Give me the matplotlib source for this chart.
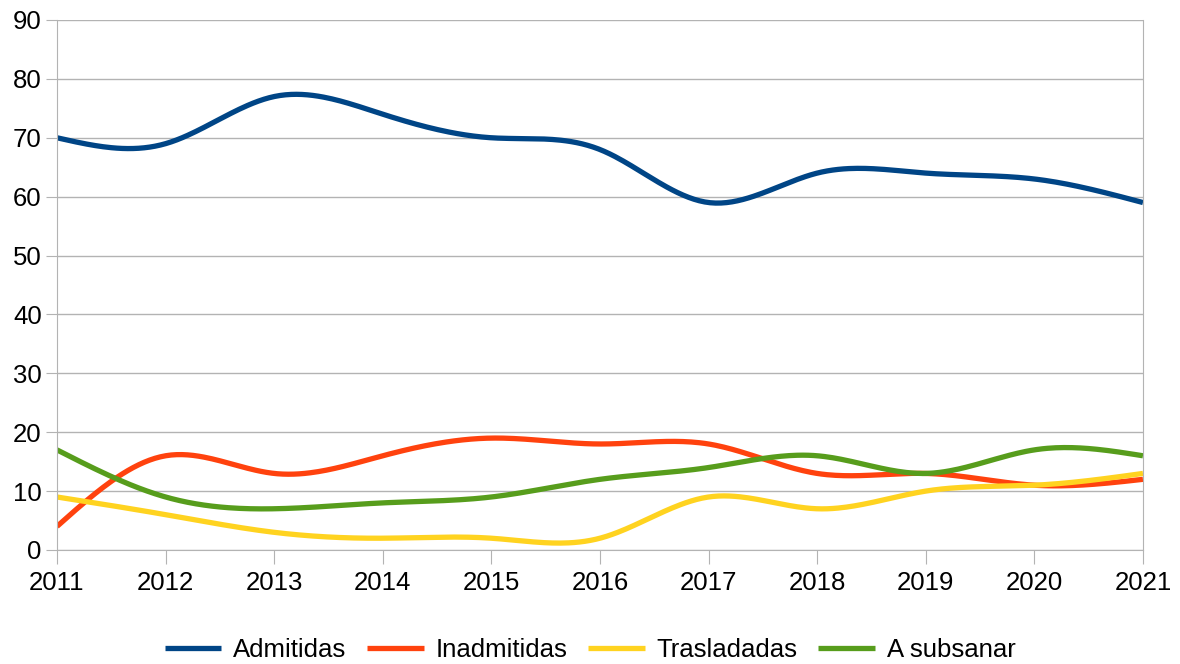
import numpy as np
import matplotlib
matplotlib.use('Agg')
import matplotlib.pyplot as plt

plt.rcParams['font.family'] = ['Liberation Sans', 'DejaVu Sans']

years = [2011, 2012, 2013, 2014, 2015, 2016, 2017, 2018, 2019, 2020, 2021]
admitidas = [70, 69, 77, 74, 70, 68, 59, 64, 64, 63, 59]
inadmitidas = [4, 16, 13, 16, 19, 18, 18, 13, 13, 11, 12]
trasladadas = [9, 6, 3, 2, 2, 2, 9, 7, 10, 11, 13]
subsanar = [17, 9, 7, 8, 9, 12, 14, 16, 13, 17, 16]

labels = ['Admitidas', 'Inadmitidas', 'Trasladadas', 'A subsanar']
colors = ['#004586', '#ff420e', '#ffd320', '#579d1c']


def natural_spline(x, y, n=400):
    # natural cubic spline, only used to draw the smoothed line
    x = np.asarray(x, float)
    y = np.asarray(y, float)
    k = len(x)
    h = np.diff(x)
    A = np.zeros((k, k))
    b = np.zeros(k)
    A[0, 0] = A[-1, -1] = 1
    for i in range(1, k - 1):
        A[i, i - 1] = h[i - 1]
        A[i, i] = 2 * (h[i - 1] + h[i])
        A[i, i + 1] = h[i]
        b[i] = 3 * ((y[i + 1] - y[i]) / h[i] - (y[i] - y[i - 1]) / h[i - 1])
    c = np.linalg.solve(A, b)
    xs = np.linspace(x[0], x[-1], n)
    idx = np.clip(np.searchsorted(x, xs) - 1, 0, k - 2)
    dx = xs - x[idx]
    hi = h[idx]
    bb = (y[idx + 1] - y[idx]) / hi - hi * (2 * c[idx] + c[idx + 1]) / 3
    dd = (c[idx + 1] - c[idx]) / (3 * hi)
    ys = y[idx] + bb * dx + c[idx] * dx ** 2 + dd * dx ** 3
    return xs, ys


fig = plt.figure(figsize=(11.8, 6.64), dpi=100)
ax = fig.add_axes([0.0483, 0.1717, 0.9203, 0.7982])

for vals, lab, col in zip([admitidas, inadmitidas, trasladadas, subsanar], labels, colors):
    xs, ys = natural_spline(years, vals)
    ax.plot(xs, ys, color=col, lw=3.8, label=lab, solid_capstyle='butt')

ax.set_xlim(2011, 2021)
ax.set_ylim(0, 90)
ax.set_xticks(years)
ax.set_yticks(range(0, 91, 10))
ax.yaxis.grid(True, color='#b3b3b3', lw=1)
ax.set_axisbelow(True)
for s in ['left', 'bottom', 'right']:
    ax.spines[s].set_color('#b3b3b3')
ax.spines['top'].set_visible(False)
ax.tick_params(axis='x', length=10, color='#b3b3b3', labelsize=18.5, pad=5)
ax.tick_params(axis='y', length=8, color='#b3b3b3', labelsize=18.5, pad=3)

ax.legend(loc='center', bbox_to_anchor=(0.491, -0.189), ncol=4, frameon=False,
          fontsize=18.5, handlelength=2.2, columnspacing=0.8, handletextpad=0.47)

fig.savefig('out.png', dpi=100)
